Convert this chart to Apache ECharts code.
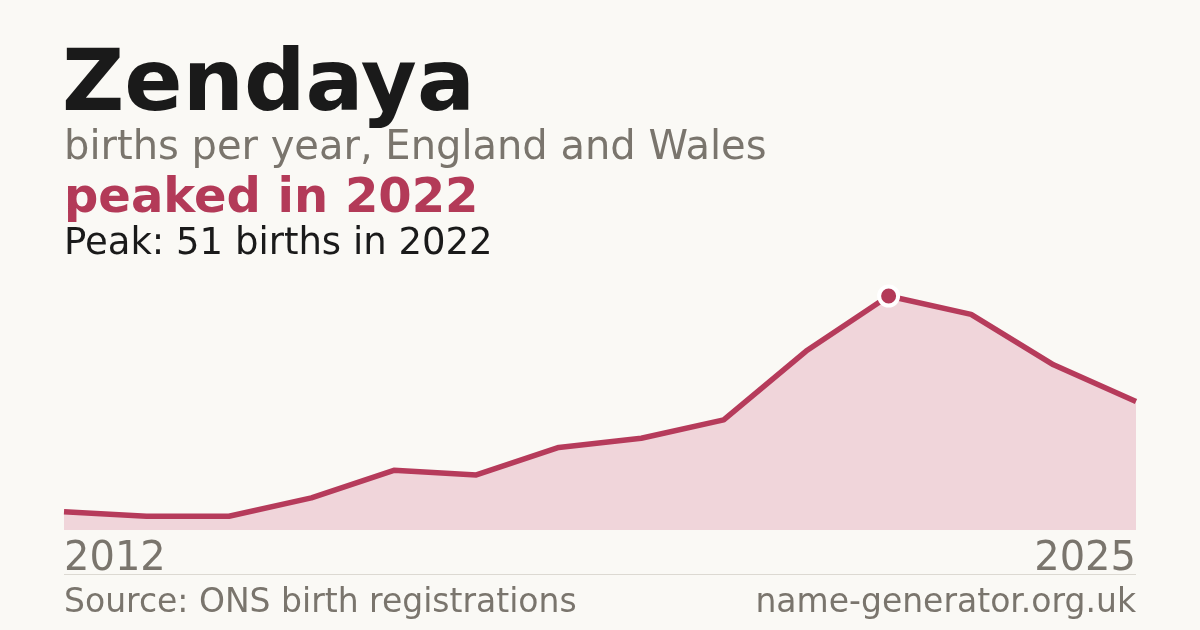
<!DOCTYPE html>
<html>
<head>
<meta charset="utf-8">
<script src="https://cdn.jsdelivr.net/npm/echarts@6/dist/echarts.min.js"></script>
<style>
html,body{margin:0;padding:0;background:#faf9f5;}
#chart{width:1200px;height:630px;}
</style>
</head>
<body>
<div id="chart"></div>
<script>
var years = ['2012','2013','2014','2015','2016','2017','2018','2019','2020','2021','2022','2023','2024','2025'];
var births = [4, 3, 3, 7, 13, 12, 18, 20, 24, 39, 51, 47, 36, 28];
var peakYear = '2022';
var peakValue = 51;
var titleText = 'Zendaya';
var subtitleText = 'births per year, England and Wales';
var headlineText = 'peaked in 2022';
var peakText = 'Peak: 51 births in 2022';
var sourceText = 'Source: ONS birth registrations';
var siteText = 'name-generator.org.uk';

var FONT = '"DejaVu Sans", sans-serif';
var crimson = '#b33a58';
var gray = '#7a756d';

var chart = echarts.init(document.getElementById('chart'), null, {renderer: 'canvas'});
chart.setOption({
  backgroundColor: '#faf9f5',
  animation: false,
  grid: {left: 64, right: 64, top: 296, bottom: 100},
  xAxis: {
    type: 'category',
    data: years,
    boundaryGap: false,
    axisLine: {show: false},
    axisTick: {show: false},
    splitLine: {show: false},
    axisLabel: {
      show: true,
      interval: 0,
      formatter: function (v, i) { return (i === 0 || i === years.length - 1) ? v : ''; },
      fontFamily: FONT,
      fontSize: 40,
      color: gray,
      margin: 10,
      alignMinLabel: 'left',
      alignMaxLabel: 'right'
    }
  },
  yAxis: {
    type: 'value',
    min: 0,
    max: peakValue,
    show: false
  },
  series: [{
    type: 'line',
    data: births,
    symbol: 'none',
    lineStyle: {color: '#b63b5b', width: 5.5, join: 'round'},
    areaStyle: {color: '#f0d5da', opacity: 1},
    clip: false,
    markPoint: {
      symbol: 'circle',
      symbolSize: 19,
      itemStyle: {color: crimson, borderColor: '#ffffff', borderWidth: 4},
      label: {show: false},
      data: [{coord: [peakYear, peakValue]}]
    },
    z: 2
  }],
  graphic: [
    {type: 'text', left: 62, top: 45, style: {text: titleText, font: 'bold 86px ' + FONT, fill: '#1a1a1a'}},
    {type: 'text', left: 64, top: 129, style: {text: subtitleText, font: '40px ' + FONT, fill: gray}},
    {type: 'text', left: 64, top: 176, style: {text: headlineText, font: 'bold 48px ' + FONT, fill: crimson}},
    {type: 'text', left: 64, top: 226, style: {text: peakText, font: '37px ' + FONT, fill: '#1a1a1a'}},
    {type: 'line', shape: {x1: 64, y1: 574.5, x2: 1136, y2: 574.5}, style: {stroke: '#dcd9d2', lineWidth: 1}},
    {type: 'text', left: 64, top: 587, style: {text: sourceText, font: '33px ' + FONT, fill: gray}},
    {type: 'text', right: 64, top: 587, style: {text: siteText, font: '33px ' + FONT, fill: gray}}
  ]
});
</script>
</body>
</html>
